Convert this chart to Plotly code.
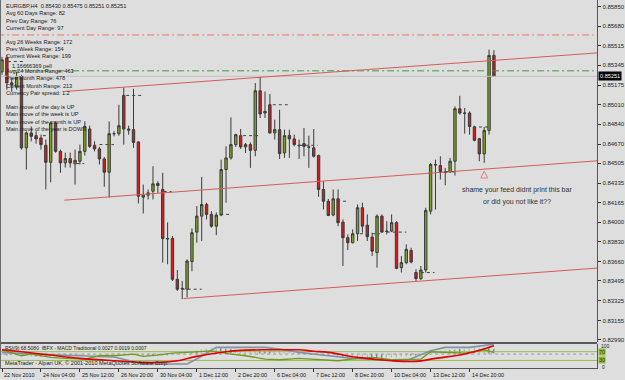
import plotly.graph_objects as go

# ---------------- data ----------------
bar_index = list(range(102))
open_ = [0.85290, 0.85409, 0.85195, 0.85161, 0.85249, 0.84637, 0.84765, 0.84742, 0.84722, 0.84659,
         0.84513, 0.84851, 0.84607, 0.84508, 0.84545, 0.84500, 0.84522, 0.84607, 0.84799, 0.84659,
         0.84628, 0.84542, 0.84428, 0.84759, 0.84759, 0.85087, 0.84799, 0.84793, 0.84688, 0.84214,
         0.84231, 0.84265, 0.84331, 0.84280, 0.83860, 0.83860, 0.83509, 0.83432, 0.83424, 0.83661,
         0.83914, 0.84051, 0.84151, 0.84066, 0.83965, 0.84060, 0.84451, 0.84551, 0.84665, 0.84742,
         0.84645, 0.84665, 0.84616, 0.85127, 0.84936, 0.85007, 0.84765, 0.84793, 0.84594, 0.84744,
         0.84714, 0.84659, 0.84673, 0.84645, 0.84637, 0.84571, 0.84280, 0.84179, 0.84060, 0.84200,
         0.84000, 0.83866, 0.83823, 0.83900, 0.84123, 0.83974, 0.83871, 0.83738, 0.84051, 0.83923,
         0.83923, 0.83995, 0.83609, 0.83652, 0.83757, 0.83567, 0.83515, 0.83589, 0.84094, 0.84494,
         0.84485, 0.84431, 0.84431, 0.84522, 0.84973, 0.84936, 0.84936, 0.84816, 0.84716, 0.84585,
         0.84787, 0.85430]
high = [0.85418, 0.85435, 0.85238, 0.85290, 0.85264, 0.84779, 0.84821, 0.84779, 0.84750, 0.84708,
        0.84864, 0.84864, 0.84622, 0.84596, 0.84596, 0.84622, 0.84665, 0.84864, 0.84827, 0.84693,
        0.84645, 0.84559, 0.84864, 0.84779, 0.85007, 0.85155, 0.84827, 0.85144, 0.84693, 0.84322,
        0.84280, 0.84479, 0.84351, 0.84423, 0.83997, 0.83880, 0.83589, 0.83495, 0.83680, 0.83946,
        0.84137, 0.84388, 0.84166, 0.84094, 0.84083, 0.84536, 0.84650, 0.84899, 0.84759, 0.84799,
        0.84679, 0.84684, 0.85193, 0.85249, 0.85121, 0.85099, 0.84879, 0.84964, 0.84793, 0.84793,
        0.84750, 0.84708, 0.84808, 0.84742, 0.84799, 0.84579, 0.84351, 0.84200, 0.84280, 0.84280,
        0.84023, 0.83894, 0.83937, 0.84151, 0.84166, 0.84066, 0.83909, 0.84066, 0.84066, 0.84008,
        0.84066, 0.84008, 0.83709, 0.83809, 0.83780, 0.83595, 0.83623, 0.84123, 0.84508, 0.84536,
        0.84565, 0.84465, 0.84551, 0.84993, 0.85084, 0.84979, 0.84950, 0.84827, 0.84722, 0.84816,
        0.85480, 0.85475]
low = [0.85264, 0.85136, 0.85118, 0.85136, 0.84622, 0.84451, 0.84693, 0.84673, 0.84622, 0.84280,
       0.84342, 0.84596, 0.84423, 0.84468, 0.84468, 0.84322, 0.84494, 0.84571, 0.84637, 0.84607,
       0.84494, 0.84303, 0.84209, 0.84736, 0.84742, 0.84665, 0.84750, 0.84637, 0.84160, 0.84074,
       0.84194, 0.84194, 0.84251, 0.83652, 0.83638, 0.83495, 0.83409, 0.83338, 0.83355, 0.83578,
       0.83823, 0.83837, 0.84023, 0.83952, 0.83888, 0.84051, 0.84166, 0.84536, 0.84645, 0.84628,
       0.84594, 0.84465, 0.84565, 0.84893, 0.84893, 0.84759, 0.84708, 0.84542, 0.84551, 0.84551,
       0.84650, 0.84542, 0.84565, 0.84465, 0.84554, 0.84217, 0.84108, 0.84051, 0.84051, 0.83965,
       0.83623, 0.83760, 0.83817, 0.83837, 0.83909, 0.83837, 0.83709, 0.83609, 0.83909, 0.83894,
       0.83914, 0.83595, 0.83567, 0.83638, 0.83646, 0.83495, 0.83503, 0.83567, 0.84066, 0.84108,
       0.84365, 0.84316, 0.84423, 0.84399, 0.84922, 0.84759, 0.84750, 0.84693, 0.84522, 0.84508,
       0.84750, 0.85251]
close = [0.85392, 0.85195, 0.85178, 0.85247, 0.84637, 0.84765, 0.84736, 0.84714, 0.84665, 0.84513,
         0.84851, 0.84607, 0.84508, 0.84545, 0.84508, 0.84530, 0.84607, 0.84821, 0.84650, 0.84628,
         0.84542, 0.84428, 0.84759, 0.84759, 0.84827, 0.84799, 0.84790, 0.84684, 0.84222, 0.84231,
         0.84251, 0.84328, 0.84314, 0.83858, 0.83856, 0.83509, 0.83424, 0.83428, 0.83666, 0.83909,
         0.84051, 0.84151, 0.84066, 0.83965, 0.84060, 0.84451, 0.84551, 0.84665, 0.84750, 0.84645,
         0.84665, 0.84616, 0.85127, 0.84928, 0.84950, 0.84765, 0.84793, 0.84588, 0.84742, 0.84714,
         0.84665, 0.84656, 0.84650, 0.84643, 0.84565, 0.84280, 0.84179, 0.84057, 0.84200, 0.83995,
         0.83866, 0.83823, 0.83900, 0.84123, 0.83965, 0.83875, 0.83751, 0.84051, 0.83914, 0.83920,
         0.83995, 0.83603, 0.83652, 0.83766, 0.83657, 0.83515, 0.83589, 0.84100, 0.84494, 0.84491,
         0.84436, 0.84428, 0.84522, 0.84973, 0.84936, 0.84934, 0.84821, 0.84702, 0.84585, 0.84787,
         0.85430, 0.85251]

price_tick_labels = ["0.85850", "0.85680", "0.85515", "0.85345", "0.85175", "0.85010", "0.84840",
                     "0.84670", "0.84505", "0.84335", "0.84165", "0.84000", "0.83830", "0.83660",
                     "0.83495", "0.83325", "0.83155", "0.82990"]
time_tick_index = [0, 8, 16, 24, 32, 40, 48, 56, 64, 72, 80, 88, 96]
time_tick_labels = ["22 Nov 2010", "24 Nov 04:00", "25 Nov 12:00", "26 Nov 20:00", "30 Nov 04:00",
                    "1 Dec 12:00", "2 Dec 20:00", "6 Dec 04:00", "7 Dec 12:00", "8 Dec 20:00",
                    "10 Dec 04:00", "13 Dec 12:00", "14 Dec 20:00"]

current_price = 0.85251
day_high_level = 0.85606
day_open_level = 0.85298

channel_x = [[12.8, 122.2], [12.8, 122.2], [37.3, 122.2]]
channel_price = [[0.85121, 0.85452], [0.84188, 0.84526], [0.83344, 0.83605]]

dot_start = [1.2, 8.4, 15.3, 20, 25.5, 33.2, 36.9, 44.8, 49.5, 55.6, 61, 68.8, 73.5, 79, 86, 89.8, 96.7]
dot_end = [4.7, 9.4, 16.9, 23, 28.7, 34.8, 41, 47, 53, 59, 64.8, 70.9, 77.6, 83, 88.8, 92.9, 100]
dot_price = [0.85378, 0.84742, 0.84502, 0.84665, 0.85087, 0.84262, 0.83424, 0.84066, 0.84742,
             0.85007, 0.84659, 0.84179, 0.83900, 0.83914, 0.83567, 0.84431, 0.84816]

arrow_index = [99]
arrow_price = [0.84438]

# indicator sub-window (0..100 scale)
signal_idx = [0, 4, 10, 16, 23, 29, 32, 36, 40, 46, 49, 54, 58, 61, 64, 67, 73, 80, 85, 89, 95, 100, 101]
signal_val = [78.6, 69.5, 54.5, 39.5, 28.6, 21.4, 21.4, 28.6, 48.6, 69.5, 75.9, 78.6, 78.6, 78.6,
              72.0, 66.8, 44.0, 28.6, 25.9, 39.5, 59.0, 89.5, 96.8]
macd_idx = [0, 6, 16, 23, 29, 38, 40, 44, 50, 54, 57, 61, 67, 72, 78, 83, 88, 91, 96, 101]
macd_val = [66.8, 59.0, 51.4, 45.5, 13.6, 13.6, 36.4, 89.5, 89.5, 89.5, 81.8, 66.8, 51.4, 39.5,
            33.2, 28.6, 74.0, 89.5, 89.5, 104.0]
rsi_idx = [0, 2, 4, 6, 10, 13, 17, 20, 23, 27, 29, 32, 35, 38, 40, 43, 47, 50, 54, 57, 61, 64, 69,
           73, 76, 80, 83, 86, 88, 91, 95, 97, 99, 101]
rsi_val = [78.6, 63.6, 51.4, 59.0, 44.0, 39.5, 36.4, 51.4, 51.4, 59.0, 48.6, 54.5, 63.6, 66.8, 69.5,
           74.0, 59.0, 51.4, 36.4, 33.2, 39.5, 36.4, 28.6, 39.5, 44.0, 33.2, 33.2, 36.4, 69.5, 66.8,
           63.6, 69.5, 78.6, 66.8]
hist_val = [-6, -8, -9, -10, -11, -11, -12, -12, -13, -13, -12, -11, -9, -7, -6, -5, -4, -4, -3, -3,
            -4, -5, -5, -6, -6, -7, -7, -8, -8, -9, -10, -10, -9, -8, -7, -5, -3, -1, 2, 8,
            14, 20, 25, 27, 27, 26, 24, 22, 20, 19, 18, 17, 16, 16, 15, 15, 14, 12, 10, 8,
            6, 5, 3, 1, -1, -3, -5, -7, -9, -11, -13, -15, -18, -20, -22, -23, -23, -22, -21, -20,
            -18, -16, -14, -12, -10, -8, -6, -2, 3, 8, 12, 15, 18, 20, 22, 24, 25, 26, 27, 27,
            26, 25]
hist_zero = 59
level_hi, level_lo = 70, 30

info_lines = ["EURGBP,H4  0.85430 0.85475 0.85251 0.85251", "Avg 60 Days Range: 82",
              "Prev Day Range: 76", "Current Day Range: 97", "Avg 26 Weeks Range: 172",
              "Prev Week Range: 154", "Current Week Range: 199", "1.16666369 pell",
              "Avg 24 Months Range: 463", "Prev Month Range: 478", "Current Month Range: 213",
              "Currency Pair spread: 1.2", "Main move of the day is UP", "Main move of the week is UP",
              "Main move of the month is UP", "Main move of the year is DOWN"]

# ---------------- layout helpers ----------------
W, H = 625, 380
AXR = 602 / W
BG = "#dedede"
FONT = "Liberation Sans"


def py(p):
    return 1 - p / H


fig = go.Figure()

# horizontal level lines
fig.add_trace(go.Scatter(x=[-1, 123], y=[current_price] * 2, mode="lines",
                         line=dict(color="#c2c2c2", width=1), hoverinfo="skip", showlegend=False))
fig.add_trace(go.Scatter(x=[-1, 121.5], y=[day_high_level] * 2, mode="lines",
                         line=dict(color="#ec7a64", width=1, dash="7px,3px,2px,3px"),
                         hoverinfo="skip", showlegend=False))
fig.add_trace(go.Scatter(x=[-1, 121.5], y=[day_open_level] * 2, mode="lines",
                         line=dict(color="#3f9a3f", width=1, dash="7px,3px,2px,3px"),
                         hoverinfo="skip", showlegend=False))

# candles
fig.add_trace(go.Candlestick(
    x=bar_index, open=open_, high=high, low=low, close=close,
    increasing=dict(fillcolor="#7da41f", line=dict(color="#3a3a3a", width=1)),
    decreasing=dict(fillcolor="#d01c1c", line=dict(color="#3a3a3a", width=1)),
    whiskerwidth=0, hoverinfo="skip", showlegend=False))

# channel trend lines
for cx, cp in zip(channel_x, channel_price):
    fig.add_trace(go.Scatter(x=cx, y=cp, mode="lines", line=dict(color="#d65c58", width=1),
                             hoverinfo="skip", showlegend=False))

# dotted marks
dx, dy = [], []
for s, e, p in zip(dot_start, dot_end, dot_price):
    dx += [s, e, None]
    dy += [p, p, None]
fig.add_trace(go.Scatter(x=dx, y=dy, mode="lines", line=dict(color="#444444", width=1, dash="dot"),
                         hoverinfo="skip", showlegend=False))

fig.add_trace(go.Scatter(x=arrow_index, y=arrow_price, mode="markers",
                         marker=dict(symbol="arrow-up-open", size=7, color="#e88080",
                                     line=dict(color="#e88080", width=1)),
                         hoverinfo="skip", showlegend=False))

# indicator window
fig.add_trace(go.Bar(x=bar_index, y=hist_val, base=hist_zero, width=0.28, marker=dict(color="#777777"),
                     yaxis="y2", hoverinfo="skip", showlegend=False))
for lv in (level_hi, level_lo):
    fig.add_trace(go.Scatter(x=[-1, 123], y=[lv, lv], yaxis="y2", mode="lines",
                             line=dict(color="#98bf4c", width=1), hoverinfo="skip", showlegend=False))
fig.add_trace(go.Scatter(x=[-1, 123], y=[hist_zero] * 2, yaxis="y2", mode="lines",
                         line=dict(color="#9a9a9a", width=1, dash="dot"), hoverinfo="skip", showlegend=False))
fig.add_trace(go.Scatter(x=macd_idx, y=macd_val, yaxis="y2", mode="lines",
                         line=dict(color="#8393a6", width=1.6), hoverinfo="skip", showlegend=False))
fig.add_trace(go.Scatter(x=rsi_idx, y=rsi_val, yaxis="y2", mode="lines",
                         line=dict(color="#6f9c1e", width=1.3), hoverinfo="skip", showlegend=False))
fig.add_trace(go.Scatter(x=signal_idx, y=signal_val, yaxis="y2", mode="lines",
                         line=dict(color="#e00000", width=1.6, shape="spline"),
                         hoverinfo="skip", showlegend=False))

annotations = []
line_y = [6, 13.5, 20.6, 27.6, 41.7, 49, 56.5, 66.5, 71.5, 78.7, 86, 93.5, 107.3, 114.7, 122, 129.7]
for txt, yy in zip(info_lines, line_y):
    xx = 10 if txt.startswith("1.1") else 4
    annotations.append(dict(text=txt, x=xx / W, y=py(yy), xref="paper", yref="paper",
                            xanchor="left", yanchor="middle", showarrow=False,
                            font=dict(family=FONT, size=5.6, color="#1a1a1a")))

annotations.append(dict(text="shame your feed didnt print this bar", x=521 / W, y=py(191),
                        xref="paper", yref="paper", xanchor="center", yanchor="middle",
                        showarrow=False, font=dict(family=FONT, size=7, color="#303030")))
annotations.append(dict(text="or did you not like it??", x=521 / W, y=py(203),
                        xref="paper", yref="paper", xanchor="center", yanchor="middle",
                        showarrow=False, font=dict(family=FONT, size=7, color="#303030")))

# time labels
for ti, tl in zip(time_tick_index, time_tick_labels):
    annotations.append(dict(text=tl, x=ti, y=py(376), xref="x", yref="paper", xanchor="left",
                            yanchor="middle", xshift=0, showarrow=False,
                            font=dict(family=FONT, size=5.4, color="#111111")))

# current price box
annotations.append(dict(text=f"{current_price:.5f}", x=603 / W, y=current_price, xref="paper", yref="y",
                        xanchor="left", yanchor="middle", showarrow=False, bgcolor="#000000",
                        borderpad=1, font=dict(family=FONT, size=5.6, color="#ffffff")))

# indicator texts
annotations.append(dict(text="RSI(9) 68.5080  IBFX - MACD Traditional 0.0027 0.0019 0.0007",
                        x=3 / W, y=py(349), xref="paper", yref="paper", xanchor="left",
                        yanchor="middle", showarrow=False, font=dict(family=FONT, size=5.0, color="#1a1a1a")))
annotations.append(dict(text="MetaTrader - Alpari UK, © 2001-2010 MetaQuotes Software Corp.",
                        x=3 / W, y=py(364), xref="paper", yref="paper", xanchor="left",
                        yanchor="middle", showarrow=False, font=dict(family=FONT, size=5.6, color="#1a1a1a")))
annotations.append(dict(text="100", x=604 / W, y=py(346.5), xref="paper", yref="paper", xanchor="left",
                        yanchor="middle", showarrow=False, font=dict(family=FONT, size=5, color="#222")))
annotations.append(dict(text="0", x=605 / W, y=py(367.5), xref="paper", yref="paper", xanchor="left",
                        yanchor="middle", showarrow=False, font=dict(family=FONT, size=5, color="#222")))
for lv in (level_hi, level_lo):
    annotations.append(dict(text=str(lv), x=603 / W, y=lv, xref="paper", yref="y2", xanchor="left",
                            yanchor="middle", showarrow=False, bgcolor="#8fb838", borderpad=0,
                            font=dict(family=FONT, size=5.5, color="#2d4a05")))

shapes = [
    dict(type="rect", xref="paper", yref="paper", x0=0, x1=AXR, y0=py(345), y1=py(343),
         fillcolor="#5a5a5a", line=dict(width=0)),
    dict(type="line", xref="paper", yref="paper", x0=0.5 / W, x1=0.5 / W, y0=py(370), y1=1,
         line=dict(color="#6a6a6a", width=1)),
]

fig.update_layout(
    width=W, height=H, margin=dict(l=0, r=0, t=0, b=0),
    paper_bgcolor=BG, plot_bgcolor=BG, showlegend=False, bargap=0,
    xaxis=dict(domain=[0, AXR], range=[-0.41, 122.2], anchor="y2", showgrid=False, zeroline=False,
               showticklabels=False, ticks="outside", ticklen=3, tickcolor="#333",
               tickvals=time_tick_index, showline=True, linecolor="#555", linewidth=1,
               rangeslider=dict(visible=False), fixedrange=True),
    yaxis=dict(domain=[py(343), 1], range=[0.82970, 0.85906], side="right", anchor="x",
               tickvals=[float(t) for t in price_tick_labels], ticktext=price_tick_labels,
               ticks="outside", ticklen=3, tickcolor="#333",
               tickfont=dict(family=FONT, size=6, color="#222"), showgrid=False, zeroline=False,
               showline=True, linecolor="#555", linewidth=1),
    yaxis2=dict(domain=[py(369), py(345)], range=[-4.5, 104.5], side="right", anchor="x",
                showticklabels=False, showgrid=False, zeroline=False, showline=True,
                linecolor="#555", linewidth=1),
    annotations=annotations, shapes=shapes,
)

fig.write_html("out.html")
